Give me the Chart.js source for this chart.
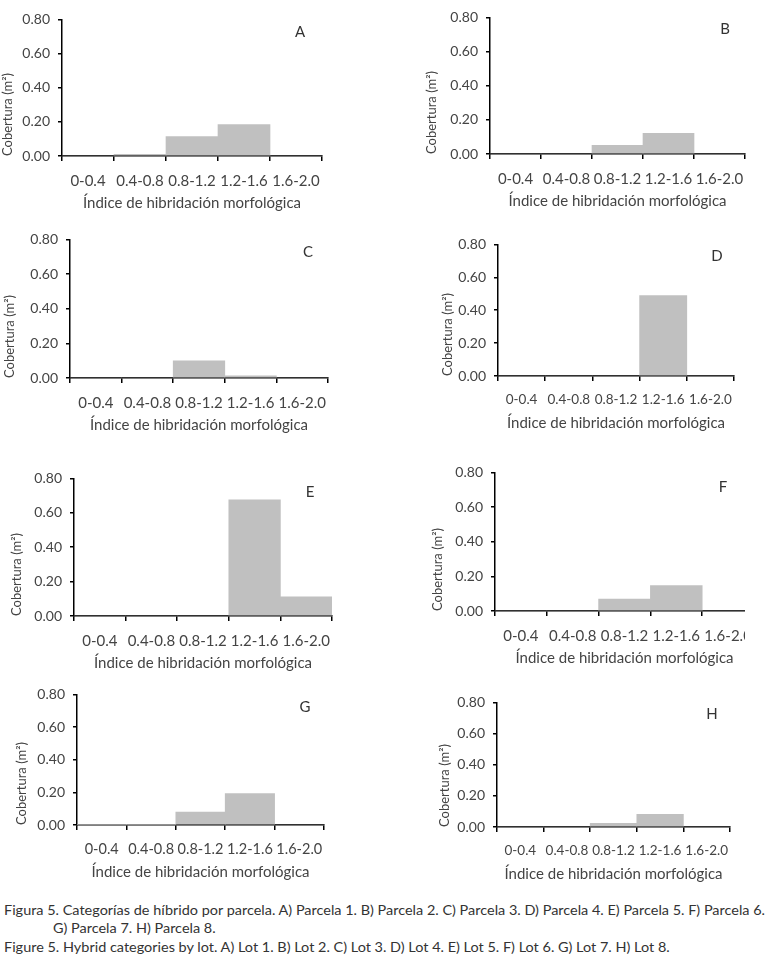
<!DOCTYPE html>
<html>
<head>
<meta charset="utf-8">
<script src="https://cdn.jsdelivr.net/npm/chart.js@4.4.1/dist/chart.umd.min.js"></script>
<style>
  body { margin: 0; background: #fff; width: 770px; height: 968px; position: relative; overflow: hidden; font-family: Lato, sans-serif; }
  .box { position: absolute; overflow: hidden; }
  .cap { position: absolute; white-space: nowrap; font-size: 14px; line-height: 16px; color: #333; transform-origin: 0 50%; }
</style>
</head>
<body>
<div id="boxes"></div>
<div class="cap" id="cap1" style="left:4px; top:902px">Figura 5. Categorías de híbrido por parcela. A) Parcela 1. B) Parcela 2. C) Parcela 3. D) Parcela 4. E) Parcela 5. F) Parcela 6.</div>
<div class="cap" id="cap2" style="left:53px; top:920px">G) Parcela 7. H) Parcela 8.</div>
<div class="cap" id="cap3" style="left:4px; top:939px">Figure 5. Hybrid categories by lot. A) Lot 1. B) Lot 2. C) Lot 3. D) Lot 4. E) Lot 5. F) Lot 6. G) Lot 7. H) Lot 8.</div>
<script>
// hybrid index classes (x axis)
const categories = ['0-0.4', '0.4-0.8', '0.8-1.2', '1.2-1.6', '1.6-2.0'];
const yTicks = [0, 0.2, 0.4, 0.6, 0.8];
const letters = ['A', 'B', 'C', 'D', 'E', 'F', 'G', 'H'];

// cover (m2) per lot
const coverA = [0, 0.01, 0.114, 0.184, 0];
const coverB = [0, 0, 0.051, 0.121, 0];
const coverC = [0, 0, 0.099, 0.013, 0];
const coverD = [0, 0, 0, 0.489, 0];
const coverE = [0, 0, 0, 0.676, 0.111];
const coverF = [0, 0, 0.069, 0.147, 0];
const coverG = [0.004, 0.003, 0.079, 0.192, 0];
const coverH = [0, 0, 0.023, 0.081, 0];
const covers = [coverA, coverB, coverC, coverD, coverE, coverF, coverG, coverH];

// where each plot area sits on the page
const panels = [
  { L: 62,  T: 15,  R: 322, B: 156, tx: 8,   dx: -22, dy: 13, fs: 15 },
  { L: 490, T: 13,  R: 745, B: 154, tx: 432, dx: -20, dy: 12, fs: 15 },
  { L: 70,  T: 235, R: 328, B: 378, tx: 10,  dx: -20, dy: 13, fs: 15 },
  { L: 498, T: 240, R: 734, B: 376, tx: 448, dx: -17, dy: 12, fs: 13.5 },
  { L: 74,  T: 474, R: 332, B: 616, tx: 17,  dx: -22, dy: 14, fs: 15 },
  { L: 495, T: 468, R: 754, B: 611, tx: 438, dx: -31, dy: 15, fs: 15, clip: 745 },
  { L: 77,  T: 690, R: 324, B: 825, tx: 22,  dx: -19, dy: 13, fs: 14.5 },
  { L: 497, T: 698, R: 730, B: 827, tx: 445, dx: -18, dy: 12, fs: 13.5 }
];

Chart.defaults.font.family = 'Lato, sans-serif';
Chart.defaults.color = '#444';

const letterPlugin = {
  id: 'panelLetter',
  afterDraw(chart, args, opts) {
    const { ctx, chartArea } = chart;
    ctx.save();
    ctx.font = '15px Lato, sans-serif';
    ctx.fillStyle = '#333';
    ctx.textAlign = 'center';
    ctx.textBaseline = 'middle';
    ctx.fillText(opts.text, chartArea.right + opts.dx, chartArea.top + opts.dy);
    ctx.restore();
  }
};

const padTop = 12, padRight = 16, xH = 56, yTitleHalf = 7.8;

panels.forEach(function (p, i) {
  const left = Math.round(p.tx - yTitleHalf);
  const top = p.T - padTop;
  const w = (p.R - left) + padRight;
  const h = padTop + (p.B - p.T) + xH + 2;
  const yW = p.L - left;

  const box = document.createElement('div');
  box.className = 'box';
  box.style.left = left + 'px';
  box.style.top = top + 'px';
  box.style.width = (p.clip ? p.clip - left : w) + 'px';
  box.style.height = h + 'px';
  const cv = document.createElement('canvas');
  cv.width = w;
  cv.height = h;
  cv.style.width = w + 'px';
  cv.style.height = h + 'px';
  box.appendChild(cv);
  document.getElementById('boxes').appendChild(box);

  new Chart(cv, {
    type: 'bar',
    data: {
      labels: categories,
      datasets: [{
        data: covers[i],
        backgroundColor: '#c0c0c0',
        borderWidth: 0,
        barPercentage: 1,
        categoryPercentage: 1
      }]
    },
    options: {
      responsive: false,
      animation: false,
      layout: { padding: { top: padTop, right: padRight, left: 0, bottom: 2 } },
      plugins: {
        legend: { display: false },
        tooltip: { enabled: false },
        panelLetter: { text: letters[i], dx: p.dx, dy: p.dy }
      },
      scales: {
        x: {
          afterFit: function (s) { s.height = xH; },
          grid: { drawOnChartArea: false, drawTicks: true, tickLength: 5, color: '#000', lineWidth: 1.5, offset: true },
          border: { display: true, color: '#000', width: 1.5 },
          ticks: { font: { size: p.fs }, color: '#444', padding: 11, autoSkip: false, maxRotation: 0, minRotation: 0 },
          title: { display: true, text: 'Índice de hibridación morfológica', font: { size: 15 }, color: '#444', padding: 0 }
        },
        y: {
          min: 0,
          max: 0.8,
          afterFit: function (s) { s.width = yW; },
          afterBuildTicks: function (s) { s.ticks = yTicks.map(function (v) { return { value: v }; }); },
          grid: { drawOnChartArea: false, drawTicks: true, tickLength: 4, color: '#000', lineWidth: 1.5 },
          border: { display: true, color: '#000', width: 1.5 },
          ticks: { font: { size: 14 }, color: '#444', padding: 8, callback: function (v) { return Number(v).toFixed(2); } },
          title: { display: true, text: 'Cobertura (m²)', align: 'start', font: { size: 13 }, color: '#444', padding: 0 }
        }
      }
    },
    plugins: [letterPlugin]
  });
});

// fit caption to the width of the original lines
const c1 = document.getElementById('cap1');
const scale = 761 / c1.getBoundingClientRect().width;
['cap1', 'cap2', 'cap3'].forEach(function (id) {
  document.getElementById(id).style.transform = 'scaleX(' + scale + ')';
});
</script>
</body>
</html>
